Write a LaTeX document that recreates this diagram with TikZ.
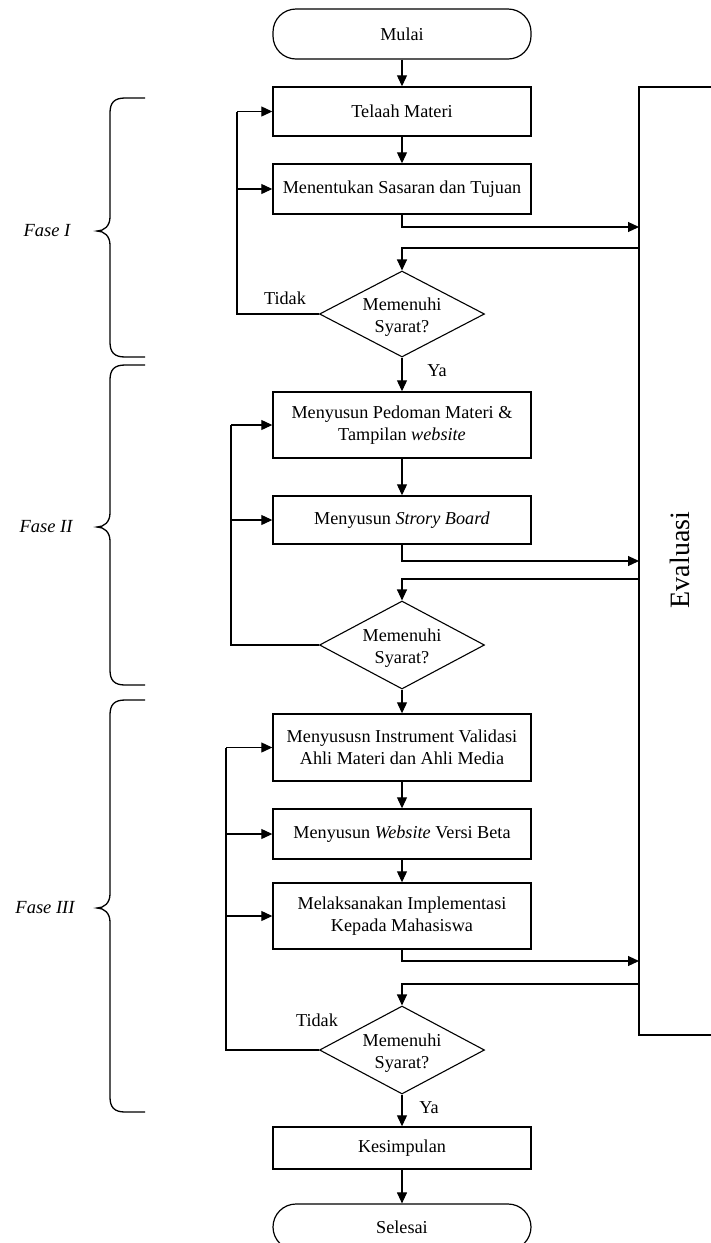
\documentclass[tikz,border=0pt]{standalone}
\usepackage{fontspec}
\setmainfont{Liberation Serif}
\usetikzlibrary{shapes.geometric,arrows.meta}
\begin{document}
\begin{tikzpicture}[x=1pt,y=-1pt,
  font=\fontsize{18.2}{22}\selectfont,
  proc/.style={draw,line width=1.4pt,minimum width=258pt,inner sep=0pt,align=center},
  term/.style={draw,line width=1.2pt,minimum width=258pt,rounded corners=23pt,inner sep=0pt},
  dec/.style={draw,diamond,line width=1.1pt,minimum width=165pt,inner sep=0pt},
  arr/.style={line width=1.1pt,-{Triangle[length=11pt,width=10pt]}},
  ln/.style={line width=1.1pt},
  brc/.style={line width=1.3pt},
  lbl/.style={inner sep=0pt}]
\useasboundingbox (0,0) rectangle (711,1243);
\clip (0,0) rectangle (711,1243);
% nodes
\node[term,minimum height=50pt] (mulai) at (402,34) {Mulai};
\node[proc,minimum height=49pt] (telaah) at (402,111.5) {Telaah Materi};
\node[proc,minimum height=50pt] (tujuan) at (402,189) {Menentukan Sasaran dan Tujuan};
\node[dec,minimum height=86pt] (d1) at (402,314) {};
\node[lbl,align=center] (d1t) at (402,317) {Memenuhi\\Syarat?};
\node[proc,minimum height=66pt] (b2a) at (402,425) {Menyusun Pedoman Materi \&\\Tampilan \textit{website}};
\node[proc,minimum height=48pt] (b2b) at (402,520) {Menyusun \textit{Strory Board}};
\node[dec,minimum height=88pt] (d2) at (402,645) {};
\node[lbl,align=center] (d2t) at (402,648) {Memenuhi\\Syarat?};
\node[proc,minimum height=67pt] (b3a) at (402,747.5) {Menyususn Instrument Validasi\\Ahli Materi dan Ahli Media};
\node[proc,minimum height=50pt] (b3b) at (402,834) {Menyusun \textit{Website} Versi Beta};
\node[proc,minimum height=66pt] (b3c) at (402,916) {Melaksanakan Implementasi\\Kepada Mahasiswa};
\node[dec,minimum height=88pt] (d3) at (402,1050) {};
\node[lbl,align=center] (d3t) at (402,1053) {Memenuhi\\Syarat?};
\node[proc,minimum height=42pt] (kes) at (402,1148) {Kesimpulan};
\node[term,minimum height=46pt] (sel) at (402,1227) {Selesai};
% evaluation box
\node[draw,line width=1.4pt,minimum width=91pt,minimum height=948pt,inner sep=0pt] (eval) at (684.5,561) {};
\node[lbl,rotate=90,font=\fontsize{28}{32}\selectfont] (evalt) at (680,560) {Evaluasi};
% labels
\node[lbl] (ya1) at (437,371) {Ya};
\node[lbl] (ya2) at (429,1108) {Ya};
\node[lbl] (tidak1) at (285,298) {Tidak};
\node[lbl] (tidak2) at (317,1020) {Tidak};
\node[lbl,font=\fontsize{18.5}{22}\selectfont\itshape] (f1) at (47,231) {Fase I};
\node[lbl,font=\fontsize{18.5}{22}\selectfont\itshape] (f2) at (46,527) {Fase II};
\node[lbl,font=\fontsize{18.5}{22}\selectfont\itshape] (f3) at (45,908) {Fase III};
% coordinates
\coordinate (e1in) at (639,227);
\coordinate (e1out) at (639,248);
\coordinate (e2in) at (639,561);
\coordinate (e2out) at (639,579);
\coordinate (e3in) at (639,961);
\coordinate (e3out) at (639,984);
\coordinate (L1) at (237,111.5);
\coordinate (L2) at (231,425);
\coordinate (L3) at (226,747.5);
% main flow
\draw[arr] (mulai) -- (telaah);
\draw[arr] (telaah) -- (tujuan);
\draw[arr] (tujuan.south) |- (e1in);
\draw[arr] (e1out) -| (d1.north);
\draw[ln] (d1.west) -| (L1);
\draw[arr] (L1) -- (telaah.west);
\draw[arr] (L1 |- tujuan.west) -- (tujuan.west);
\draw[arr] (d1.south) -- (b2a.north);
\draw[arr] (b2a) -- (b2b);
\draw[arr] (b2b.south) |- (e2in);
\draw[arr] (e2out) -| (d2.north);
\draw[ln] (d2.west) -| (L2);
\draw[arr] (L2) -- (b2a.west);
\draw[arr] (L2 |- b2b.west) -- (b2b.west);
\draw[arr] (d2.south) -- (b3a.north);
\draw[arr] (b3a) -- (b3b);
\draw[arr] (b3b) -- (b3c);
\draw[arr] (b3c.south) |- (e3in);
\draw[arr] (e3out) -| (d3.north);
\draw[ln] (d3.west) -| (L3);
\draw[arr] (L3) -- (b3a.west);
\draw[arr] (L3 |- b3b.west) -- (b3b.west);
\draw[arr] (L3 |- b3c.west) -- (b3c.west);
\draw[arr] (d3.south) -- (kes.north);
\draw[arr] (kes) -- (sel);
% braces
\foreach \yt/\ym/\yb in {98/231/357, 365/527/685, 700/908/1112}{
  \draw[brc] (145,\yt) -- (125,\yt) .. controls (114,\yt) and (110,\yt+5) .. (110,\yt+15)
    -- (110,\ym-14) .. controls (110,\ym-5) and (104,\ym) .. (97,\ym)
    .. controls (104,\ym) and (110,\ym+5) .. (110,\ym+14)
    -- (110,\yb-15) .. controls (110,\yb-5) and (114,\yb) .. (125,\yb) -- (145,\yb);
}
\end{tikzpicture}
\end{document}
